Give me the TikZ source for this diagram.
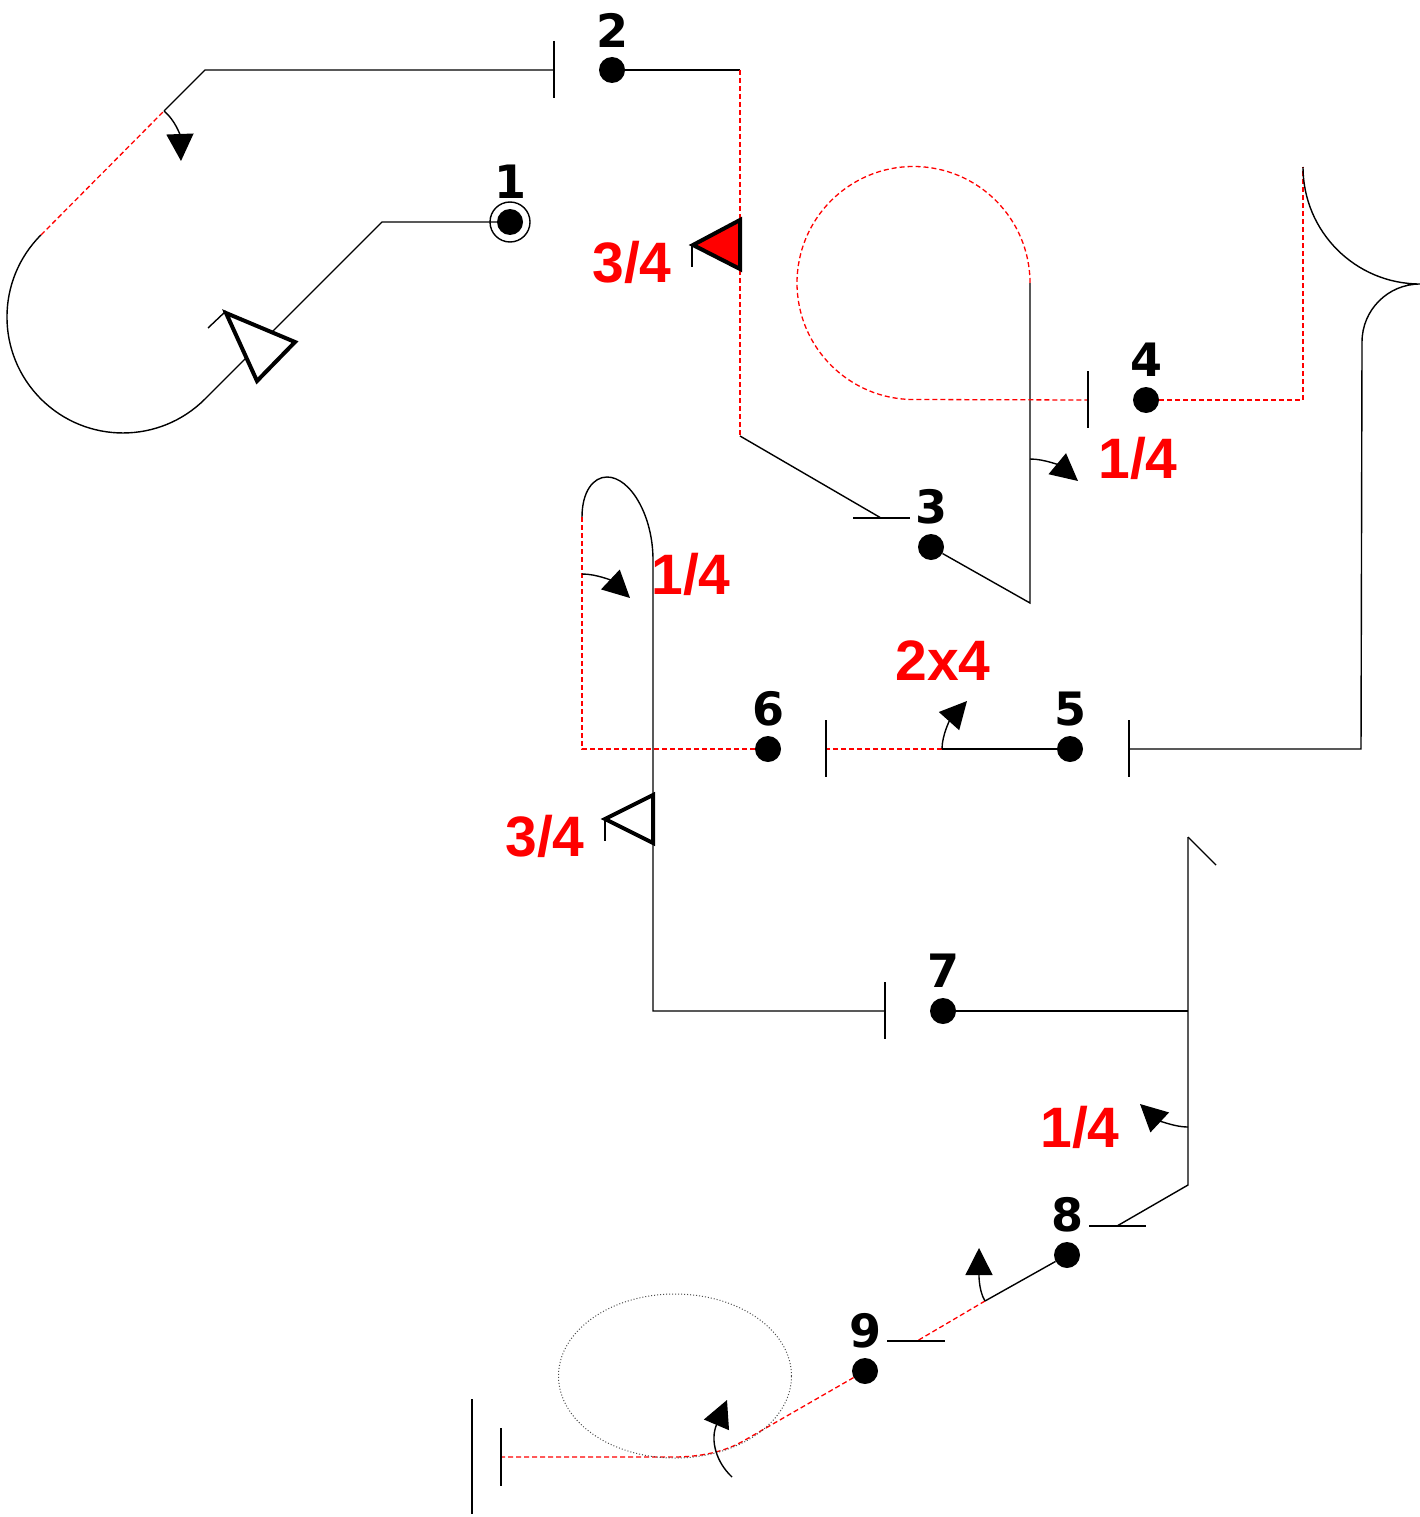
\documentclass[tikz,border=0pt]{standalone}
\usepackage{fontspec}
\setmainfont{Liberation Sans}
\newfontfamily\digitfont{DejaVu Sans}
\usetikzlibrary{arrows.meta}
\definecolor{markred}{RGB}{255,0,0}
\tikzset{
  wire/.style={line width=1.4pt,black},
  redwire/.style={line width=1.3pt,markred,dash pattern=on 5pt off 3pt},
  dot/.style={circle,fill=black,inner sep=0pt,minimum size=26pt},
  digit/.style={font=\digitfont\bfseries\fontsize{46}{46}\selectfont,inner sep=0pt},
  quarter/.style={font=\bfseries\fontsize{57}{57}\selectfont,text=markred,inner sep=0pt},
  turn/.style={line width=1.4pt,-{Triangle[length=27pt,width=27pt]}},
  wedge/.style={line width=4pt,line join=miter,draw=black}
}
\begin{document}
\begin{tikzpicture}[x=1pt,y=-1pt]
            \useasboundingbox (0,0) rectangle (1420,1517);
            % points along the path
            \foreach \name/\x/\y in {1/510/222,2/612/70,3/931/547,4/1146/400,5/1070/749,6/768/749,7/943/1011,8/1067/1255,9/865/1371} {
                \node[dot] (p\name) at (\x,\y) {};
                \node[digit] (l\name) at (\x+0.5,\y-40) {\name};
            }
            \node[circle,draw,line width=1.4pt,inner sep=0pt,minimum size=40pt] (ring) at (p1) {};
            % named corners and ends
            \foreach \name/\x/\y in {a/382/222,b/205/399,c/41/235,d/164/111,e/205/70,f/554/70,g/740/70,h/740/436,i/881/518,
                j/1030/603,k/1030/283,m/1088/400,n/1303/400,o/1303/167,q/1361/342,r/1361/749,s/1129/749,t/942/749,u/826/749,
                v/582/749,w/582/517,x/653/1011,z/885/1011,aa/1188/1011,ab/1188/837,ac/1188/1185,ad/1117/1226,ae/985/1301,
                af/917/1341,ag/745/1440,ah/501/1457} {
                \coordinate (\name) at (\x,\y);
            }
            % black and red runs
            \draw[wire] (ring.center) -- (a) -- (b) arc[start angle=315,end angle=135,radius=116pt];
            \draw[redwire] (c) -- (d);
            \draw[wire] (d) -- (e) -- (f);
            \draw[wire] (p2) -- (g);
            \draw[redwire] (g) -- (h);
            \draw[wire] (h) -- (i);
            \draw[wire] (p3) -- (j) -- (k);
            \draw[redwire] (k) arc[start angle=0,end angle=270,radius=116.5pt] -- (m);
            \draw[redwire] (p4) -- (n) -- (o);
            \draw[wire] (o) arc[start angle=180,end angle=270,radius=117pt] arc[start angle=90,end angle=180,radius=58pt] -- (r) -- (s);
            \draw[wire] (p5) -- (t);
            \draw[redwire] (t) -- (u);
            \draw[redwire] (p6) -- (v) -- (w);
            \draw[wire] (w) .. controls (582,492) and (593,477) .. (607,477) .. controls (630,477) and (653,515) .. (653,560) -- (x) -- (z);
            \draw[wire] (p7) -- (aa);
            \draw[wire] (ab) -- (ac) -- (ad);
            \draw[wire] (p8) -- (ae);
            \draw[redwire] (ae) -- (af);
            \draw[redwire] (p9) -- (ag) .. controls (725,1452) and (700,1457) .. (673,1457) -- (ah);
            \draw[line width=1pt,black!70,dash pattern=on 1pt off 2pt] (675,1376) ellipse[x radius=116.5pt,y radius=82pt];
            % ticks
            \draw[wire] (f) ++(0,-29) -- ++(0,57);
            \draw[wire] (m) ++(0,-29) -- ++(0,57);
            \draw[wire] (s) ++(0,-29) -- ++(0,57);
            \draw[wire] (u) ++(0,-29) -- ++(0,57);
            \draw[wire] (z) ++(0,-29) -- ++(0,57);
            \draw[wire] (ah) ++(0,-29) -- ++(0,58);
            \draw[wire] (472,1399) -- (472,1514);
            \draw[wire] (i) ++(-28,0) -- ++(57,0);
            \draw[wire] (ad) ++(-28,0) -- ++(57,0);
            \draw[wire] (af) ++(-30,0) -- ++(58,0);
            \draw[wire] (ab) -- ++(28,28);
            % turn arrows
            \draw[turn] (d) .. controls (175,120) and (180,135) .. (181,161);
            \draw[turn] (1030,459) .. controls (1045,459) and (1060,466) .. (1078,481);
            \draw[turn] (582,574) .. controls (597,574) and (612,581) .. (630,598);
            \draw[turn] (t) .. controls (942,735) and (950,720) .. (967,701);
            \draw[turn] (1188,1127) .. controls (1172,1127) and (1155,1118) .. (1140,1104);
            \draw[turn] (ae) .. controls (978,1290) and (979,1270) .. (979,1248);
            \draw[turn] (732,1477) .. controls (716,1462) and (710,1440) .. (727,1400);
            % wedges with their small ticks
            \draw[wire] (208,328) -- (226,311);
            \draw[wedge,fill=white] (226,313) -- (295,342) -- (257,381) -- cycle;
            \draw[wire] (692,245) -- (692,267);
            \draw[wedge,fill=markred] (693,245) -- (740,220) -- (740,269) -- cycle;
            \draw[wire] (605,819) -- (605,841);
            \draw[wedge,fill=white] (605,819) -- (653,795) -- (653,843) -- cycle;
            % red labels
            \node[quarter] (q1) at (632,262) {3/4};
            \node[quarter] (q2) at (1138,458) {1/4};
            \node[quarter] (q3) at (691,574) {1/4};
            \node[quarter] (q4) at (943,661) {2x4};
            \node[quarter] (q5) at (545,836) {3/4};
            \node[quarter] (q6) at (1080,1127) {1/4};
        \end{tikzpicture}
\end{document}
